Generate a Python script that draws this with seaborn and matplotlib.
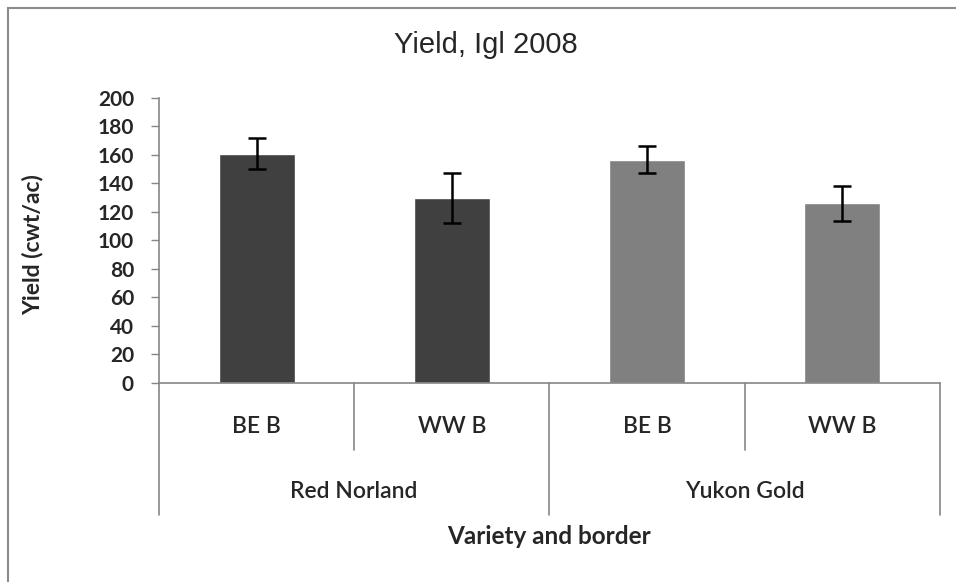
import pandas as pd
import seaborn as sns
import matplotlib.pyplot as plt
import matplotlib.transforms as mtransforms
from matplotlib.patches import Rectangle

# Data
varieties = ['Red Norland', 'Red Norland', 'Yukon Gold', 'Yukon Gold']
borders = ['BE B', 'WW B', 'BE B', 'WW B']
yields = [161, 129.5, 156.5, 126]
errors = [11, 17.5, 9.5, 12]
bar_colors = ['#404040', '#404040', '#808080', '#808080']

df = pd.DataFrame({'Variety': varieties, 'Border': borders, 'Yield': yields})
df['key'] = df['Variety'] + ' ' + df['Border']

sns.set_style('white')
plt.rcParams['font.family'] = ['Lato', 'DejaVu Sans']

fig = plt.figure(figsize=(9.56, 5.82), dpi=100)
ax = fig.add_axes([0.1663, 0.342, 0.8167, 0.4897])

sns.barplot(data=df, x='key', y='Yield', hue='key', palette=bar_colors,
            width=0.39, legend=False, ax=ax, saturation=1)
ax.errorbar(range(len(df)), df['Yield'], yerr=errors, fmt='none',
            ecolor='black', elinewidth=1.8, capsize=6.5, capthick=1.8)

ax.set_xlim(-0.5, 3.5)
ax.set_ylim(0, 200)
ax.set_yticks(range(0, 201, 20))
ax.set_xticks([])
ax.set_xlabel('')
ax.set_ylabel('Yield (cwt/ac)', fontsize=16.5, fontweight='bold')
ax.yaxis.set_label_coords(-0.148, 0.484)
for lbl in ax.get_yticklabels():
    lbl.set_fontweight('bold')
    lbl.set_fontsize(15)
ax.tick_params(axis='y', left=True, length=6, color='#868686', width=1, pad=12)

sns.despine(ax=ax)
for s in ['left', 'bottom']:
    ax.spines[s].set_color('#868686')
    ax.spines[s].set_linewidth(1.2)

# multi-level category axis
trans = mtransforms.blended_transform_factory(ax.transData, ax.transAxes)
for i, b in enumerate(borders):
    ax.text(i, -0.154, b, transform=trans, ha='center', va='center',
            fontsize=16.5, fontweight='semibold')
groups = list(dict.fromkeys(varieties))
for g in groups:
    idx = [i for i, v in enumerate(varieties) if v == g]
    ax.text(sum(idx) / len(idx), -0.382, g, transform=trans, ha='center',
            va='center', fontsize=16.5, fontweight='semibold')
for xpos in [-0.5, 1.5, 3.5]:
    ax.plot([xpos, xpos], [0, -0.463], transform=trans, color='#868686',
            lw=1.2, clip_on=False)
for xpos in [0.5, 2.5]:
    ax.plot([xpos, xpos], [0, -0.235], transform=trans, color='#868686',
            lw=1.2, clip_on=False)
ax.text(1.5, -0.54, 'Variety and border', transform=trans, ha='center',
        va='center', fontsize=17.5, fontweight='bold')

fig.text(0.508, 0.922, 'Yield, Igl 2008', ha='center', va='center',
         fontsize=21, family='Liberation Sans')

fig.add_artist(Rectangle((8 / 956, -0.1), 1.2, 1.1 - 8 / 582, transform=fig.transFigure,
                         fill=False, ec='#8c8c8c', lw=1.5))

plt.savefig('out.png', dpi=100)
